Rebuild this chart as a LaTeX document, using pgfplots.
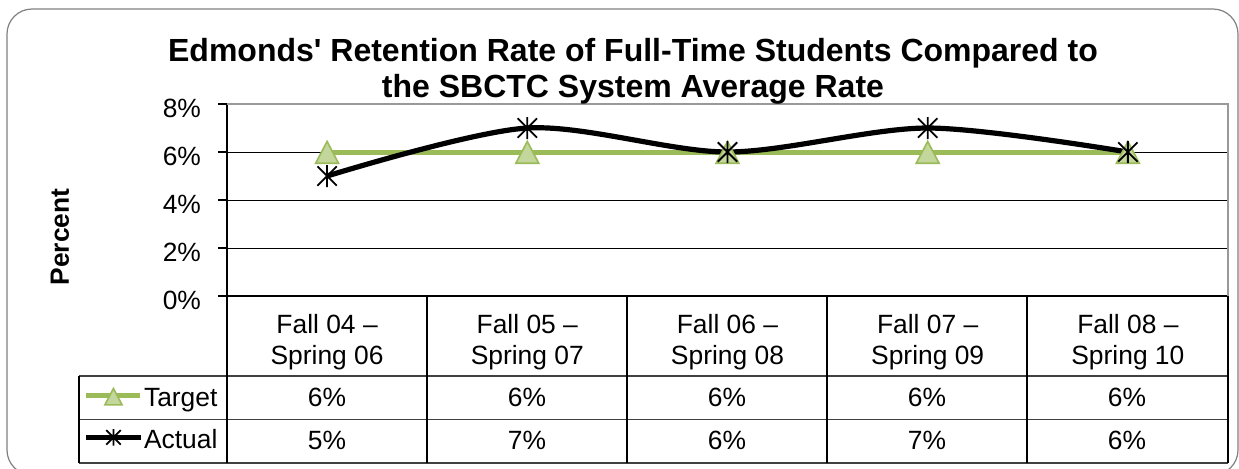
\documentclass[border=0pt]{standalone}
\usepackage{fontspec}
\setmainfont{Liberation Sans}
\usepackage{pgfplots}
\pgfplotsset{compat=1.18}
\definecolor{tgline}{HTML}{9BBB59}
\definecolor{tgfill}{HTML}{C3D69B}
\newcommand{\bodyfont}{\fontsize{13.2}{15.5}\selectfont}
\newcommand{\titlefont}{\fontsize{16}{18}\selectfont\bfseries}
\pgfdeclareplotmark{vx}{%
 \pgfpathmoveto{\pgfqpoint{0pt}{\pgfplotmarksize}}\pgfpathlineto{\pgfqpoint{0pt}{-\pgfplotmarksize}}%
 \pgfpathmoveto{\pgfqpoint{-0.88\pgfplotmarksize}{-0.88\pgfplotmarksize}}\pgfpathlineto{\pgfqpoint{0.88\pgfplotmarksize}{0.88\pgfplotmarksize}}%
 \pgfpathmoveto{\pgfqpoint{-0.88\pgfplotmarksize}{0.88\pgfplotmarksize}}\pgfpathlineto{\pgfqpoint{0.88\pgfplotmarksize}{-0.88\pgfplotmarksize}}%
 \pgfusepathqstroke}

\begin{document}
\begin{tikzpicture}
\useasboundingbox (0,0) rectangle (619.5pt,-234pt);
\begin{scope}[x=0.5pt,y=-0.5pt]
\draw[gray, line width=0.6pt, rounded corners=12.5pt] (7,9) rectangle (1238,475);
\end{scope}
\begin{axis}[
  at={(113.5pt,-148pt)}, anchor=south west,
  scale only axis, width=500.5pt, height=96pt,
  xmin=-0.5, xmax=4.5, ymin=0, ymax=8,
  axis lines*=left,
  axis line style={black, line width=0.6pt},
  xtick={0,1,2,3,4},
  xticklabels={{Fall 04 –\\Spring 06},{Fall 05 –\\Spring 07},{Fall 06 –\\Spring 08},{Fall 07 –\\Spring 09},{Fall 08 –\\Spring 10}},
  xticklabel style={align=center, font=\bodyfont, anchor=north, inner sep=0pt, yshift=-4.5pt},
  x tick style={draw=none},
  ytick={0,2,4,6,8},
  yticklabels={0\%,2\%,4\%,6\%,8\%},
  yticklabel style={font=\bodyfont, yshift=-2pt, xshift=-5pt},
  tick align=outside, major tick length=4.5pt,
  y tick style={black, line width=0.6pt},
  ymajorgrids, grid style={black, line width=0.5pt},
  ylabel={Percent},
  ylabel style={font=\bodyfont\bfseries, at={(axis description cs:-0.1668,0.307)}, anchor=center},
  clip=false,
  legend style={at={(axis description cs:-0.1434,-0.46875)}, anchor=north west, draw=none, fill=none, inner sep=0pt, row sep=8pt, column sep=0.5pt, font=\bodyfont, nodes={inner sep=0pt, text height=10pt, text depth=3pt}},
  legend cell align=left,
  legend image code/.code={\draw[mark repeat=2,mark phase=2,#1, every mark/.append style={scale=0.75}] plot coordinates {(0pt,2pt)(13.5pt,2pt)(27pt,2pt)};},
]
\addplot[tgline, line width=2.5pt, mark=triangle*, mark size=6.6pt, mark options={fill=tgfill, draw=tgline, line width=0.8pt, yscale=1.1, yshift=-1.8pt}] coordinates {(0,6)(1,6)(2,6)(3,6)(4,6)};
\addlegendentry{Target}
\addplot[black, line width=2.6pt, smooth, mark=vx, mark size=5.5pt, mark options={line width=0.9pt, solid}] coordinates {(0,5)(1,7)(2,6)(3,7)(4,6)};
\addlegendentry{Actual}
\draw[gray!80, line width=0.6pt] (rel axis cs:0,1) -- (rel axis cs:1,1) -- (rel axis cs:1,0);
\end{axis}
\begin{scope}[x=0.5pt,y=-0.5pt]
\draw[black!75, line width=0.6pt] (79,376) -- (1228,376) (79,419.5) -- (1228,419.5) (79,463) -- (1228,463);
\draw[black, line width=0.6pt] (79,376) -- (79,463);
\foreach \x in {227,427,627,827,1027,1228} \draw[black, line width=0.6pt] (\x,296) -- (\x,463);
\foreach \v [count=\i from 0] in {6,6,6,6,6} \node[font=\bodyfont, anchor=base, inner sep=0pt] at ({327+200*\i},406) {\v\%};
\foreach \v [count=\i from 0] in {5,7,6,7,6} \node[font=\bodyfont, anchor=base, inner sep=0pt] at ({327+200*\i},449) {\v\%};
\node[font=\titlefont, anchor=base, inner sep=0pt] at (633,61.7) {Edmonds\textquotesingle\ Retention Rate of Full-Time Students Compared to};
\node[font=\titlefont, anchor=base, inner sep=0pt] at (633,97.5) {the SBCTC System Average Rate};
\end{scope}
\end{tikzpicture}
\end{document}
